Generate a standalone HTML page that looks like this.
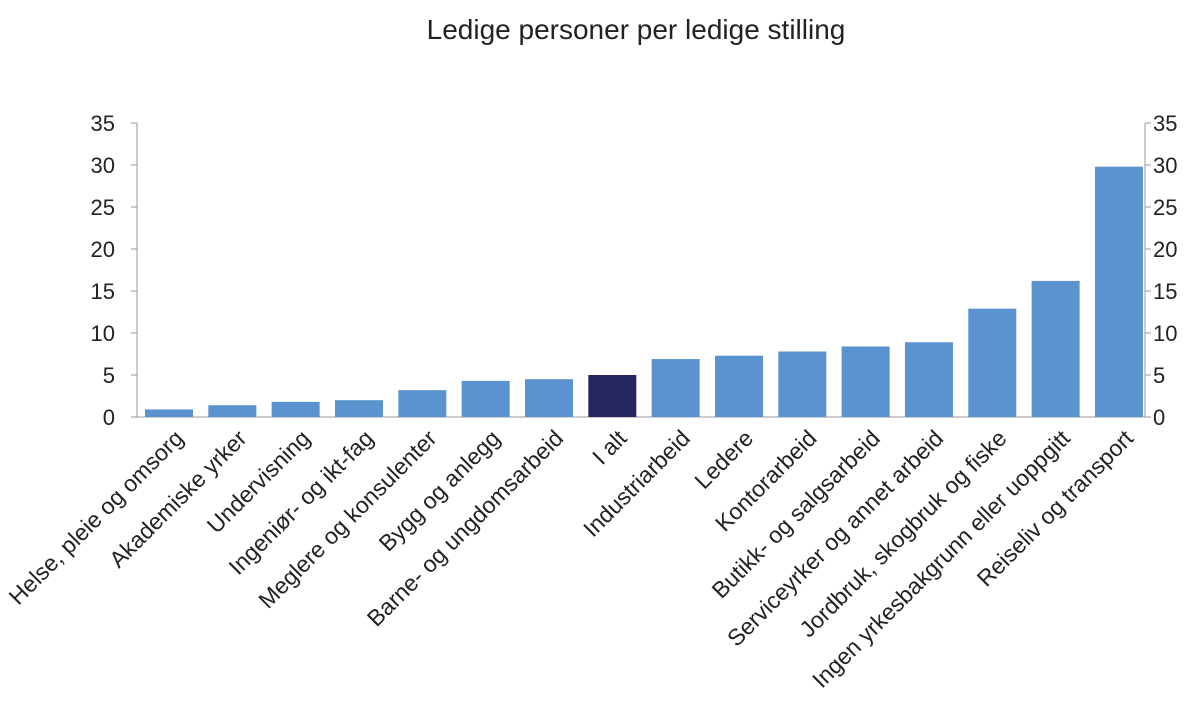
<!DOCTYPE html>
<html><head><meta charset="utf-8"><style>
body{margin:0;background:#fff;}
svg{display:block;font-family:"Liberation Sans","DejaVu Sans",sans-serif;}
</style></head><body>
<svg id="chart" width="1200" height="719">
<text x="636" y="39" text-anchor="middle" font-size="28" fill="#222">Ledige personer per ledige stilling</text>
<g id="axes"></g><g id="bars"></g><g id="labels"></g>
</svg>
<script>
const categories=["Helse, pleie og omsorg","Akademiske yrker","Undervisning","Ingeniør- og ikt-fag","Meglere og konsulenter","Bygg og anlegg","Barne- og ungdomsarbeid","I alt","Industriarbeid","Ledere","Kontorarbeid","Butikk- og salgsarbeid","Serviceyrker og annet arbeid","Jordbruk, skogbruk og fiske","Ingen yrkesbakgrunn eller uoppgitt","Reiseliv og transport"];
const values=[0.9,1.4,1.8,2.0,3.2,4.3,4.5,5.0,6.9,7.3,7.8,8.4,8.9,12.9,16.2,29.8];
const ticks=[0,5,10,15,20,25,30,35];
const NS="http://www.w3.org/2000/svg";
const x0=137,x1=1145,yBase=417,yTop=123,maxV=35;
const firstC=169,band=63.33;
const y=v=>yBase-(v/maxV)*(yBase-yTop);
const xc=i=>firstC+band*i;
function mk(tag,attrs,parent,text){const e=document.createElementNS(NS,tag);for(const k in attrs)e.setAttribute(k,attrs[k]);if(text!==undefined)e.textContent=text;document.getElementById(parent).appendChild(e);return e;}
const ax=mk("line",{x1:x0,x2:x0,y1:yTop,y2:yBase,stroke:"#999","stroke-width":1},"axes");


const ax2=mk("line",{x1:x1,x2:x1,y1:yTop,y2:yBase,stroke:"#999","stroke-width":1},"axes");


const bl=mk("line",{x1:x0,x2:x1,y1:yBase,y2:yBase,stroke:"#999","stroke-width":1},"axes");


ticks.forEach(t=>{
 const a=mk("line",{x1:x0-6,x2:x0,y1:y(t),y2:y(t),stroke:"#999"},"axes");
 
 
 const b=mk("line",{x1:x1,x2:x1+6,y1:y(t),y2:y(t),stroke:"#999"},"axes");
 
 
 const l=mk("text",{x:115,y:y(t)+8,"text-anchor":"end","font-size":22,fill:"#222"},"axes",t);
 
 
 const r=mk("text",{x:1153,y:y(t)+8,"text-anchor":"start","font-size":22,fill:"#222"},"axes",t);
 
 
});
const bw=48;
categories.forEach((c,i)=>{
 const v=values[i];
 const r=mk("rect",{x:xc(i)-bw/2,y:y(v),width:bw,height:yBase-y(v),fill:c==="I alt"?"#262660":"#5a93d0"},"bars");
 
 
 const tx=xc(i)+6,ty=430;
 const t=mk("text",{x:tx,y:ty,"text-anchor":"end","font-size":23,fill:"#222",transform:`rotate(-45 ${tx} ${ty})`,dy:"0.6em"},"labels",c);
 
 
});
</script>
</body></html>
